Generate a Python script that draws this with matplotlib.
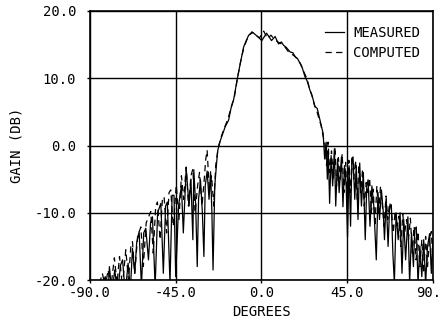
import matplotlib
matplotlib.use('Agg')
import matplotlib.pyplot as plt

# measured pattern (angle in degrees, gain in dB)
meas_deg = [-84, -82, -80.5, -79.8, -78.5, -77, -75.5, -74, -72.9, -71.5, -70, -68.8, -67.7, -66.5,
            -65.5, -64.2, -63, -61.8, -60.7, -59.3, -58.2, -57.2, -55.8, -54.5, -52.8, -51.5, -50.3,
            -49.4, -48, -46.9, -45.9, -45, -43.5, -42, -41, -39.5, -38, -37, -36, -35.5, -34.5, -33.7,
            -33, -32, -31, -30.2, -29.5, -28.5, -27.5, -26.7, -26, -25.4, -24.5, -23.5, -22.9, -21.5,
            -19, -17.2, -16, -14.6, -12.8, -11.1, -9.3, -6.7, -4.5, -2, 0.2, 2.7, 5.3, 7.2, 9.0, 10.5,
            11.6, 13, 15.1, 16.5, 17.7, 19, 20.3, 21.5, 22.9, 24, 25.5, 26.8, 28.1, 29.3, 30.7, 31.5,
            32.4, 33.2, 34, 34.6, 35.1, 35.8, 36.6, 37.4, 38.3, 39, 40, 40.8, 42, 42.8, 43.6, 44.5,
            45.2, 46, 46.8, 47.5, 48.1, 49, 49.8, 50.7, 51.6, 52.5, 53.5, 54.5, 55.3, 56, 57, 58, 59,
            60.3, 61.2, 62, 63, 64, 64.6, 65.5, 66.5, 67.3, 68.2, 69, 69.8, 70.7, 71.8, 72.8, 73.8,
            74.7, 75.7, 76.9, 77.8, 78.8, 79.8, 80.5, 81.3, 82.2, 83.2, 84.2, 85.2, 86.2, 87.2, 88.3,
            89.2, 90]
meas_db = [-21, -19.5, -22, -18.0, -22, -18.5, -22, -17.8, -17.0, -22, -17.5, -21.5, -15.3, -19,
           -14.5, -12.8, -21, -13, -12.3, -17, -11.5, -10.6, -21, -10, -8.6, -19, -9,
           -8.4, -20.5, -7.4, -7.4, -19.5, -9, -6, -13, -3.4, -9, -5, -14, -3.6, -9, -18,
           -8, -5.1, -10, -16.5, -6, -3.8, -8, -3.9, -10, -18.5, -6, -2.5, -0.7, 0.8,
           2.8, 3.8, 5.5, 6.8, 9.7, 12.2, 14.7, 16.4, 16.8, 16.2, 15.6, 16.7, 15.6, 16.2, 15.1, 15.4,
           14.9, 14.6, 13.9, 13.8, 13.2, 12.9, 12.2, 11.5, 10.2, 9.6, 8.2, 7.2, 5.8, 5.5, 3.8, 2.8,
           1.8, -2, 0.5, -5, -0.7, -8.6, -1.5, -6, -0.5, -9, -2, -7, -1.7, -9.1, -3, -6,
           -13.6, -3, -12, -2, -1.7, -8, -3, -11, -2.6, -9, -4, -14, -6, -5.1, -12, -6, -9,
           -17, -7, -11, -6.6, -10, -14, -8, -15, -9, -8.8, -16, -20.5, -10, -14, -10, -19,
           -11, -17, -10.6, -20.5, -13, -18, -12.5, -12.1, -20.5, -15, -19.5, -14, -20.5, -15, -13.1,
           -19, -14]

# computed pattern
comp_deg = [-85, -83.5, -82, -80.5, -79, -77.2, -75.8, -74.5, -73, -71.2, -69.8, -68.5, -67.7, -66.5,
            -65, -63.3, -62, -60.5, -58.1, -56.8, -55.5, -54.6, -53.2, -52, -51.1, -49.8, -48.5,
            -47.6, -46.3, -44.7, -43.3, -42, -40.8, -39.5, -38.3, -37, -36, -34.8, -33.5, -32.5,
            -31.2, -30, -29.3, -28.5, -27.3, -26.2, -25, -24, -22.8, -21.5, -19.5, -17.5, -15.8,
            -14.2, -12.6, -10.9, -9.2, -7, -5, -3, -1, 1.2, 3.2, 5, 6.8, 8.6, 10.5, 12.2, 14, 15.8,
            17.4, 19.2, 20.8, 22.5, 24, 25.2, 26.5, 27.8, 29, 30.2, 31.3, 32.3, 33.3, 34.2, 35,
            35.8, 36.8, 37.8, 38.6, 39.5, 40.4, 41.4, 42.4, 43.3, 44.2, 45, 45.9, 46.7, 47.6, 48.5,
            49.4, 50.3, 51.2, 52.2, 53.1, 54, 55, 55.9, 56.8, 57.7, 58.7, 59.6, 60.6, 61.5, 62.5,
            63.5, 64.4, 65.4, 66.3, 67.3, 68.2, 69.2, 70.2, 71.2, 72.2, 73.2, 74.2, 75.2, 76.2,
            77.2, 78.2, 79.2, 80.2, 81.2, 82.2, 83.2, 84.2, 85.2, 86.2, 87.2, 88.2, 89.2, 90]
comp_db = [-20.5, -19, -21, -18.5, -21, -16.7, -20.5, -16.5, -21, -15.5, -20, -14.8, -14.3, -19,
           -13.5, -12.1, -18, -11.5, -9.8, -16, -9, -8.4, -14, -8, -7.6, -13, -7,
           -6.6, -12, -5.9, -11, -4.5, -8, -3.2, -9, -4.5, -3.5, -10, -6, -4,
           -9, -5, -2.2, -0.7, -7, -4.5, -9, -3, -0.5, 1.0, 2.6, 4.0, 5.8,
           7.2, 10.0, 12.5, 14.6, 16.2, 16.9, 16.4, 16.0, 17.0, 15.9, 16.4, 15.8, 15.4, 15.1, 14.7, 14.0, 13.6,
           13.3, 12.8, 12.0, 10.8, 9.9, 8.5, 7.5, 6.0, 5.2, 4.0, 3.0, 1.5, 0.2, -3, 0.5,
           -4, -0.8, -5, -0.3, -6, -1.8, -5, -1.2, -7, -2.5, -8, -2.2, -7, -1.5, -5,
           -2.2, -8, -2.8, -7, -3.5, -9, -5.5, -7, -4.8, -10, -6.5, -12, -6, -10, -6.2,
           -9, -12, -7.5, -11, -8.5, -9.5, -13, -9.8, -12, -10.5, -15, -10.2, -13, -11,
           -14, -10.8, -16, -12, -17, -12.8, -18, -14, -19, -13.5, -18, -14, -12.8, -17]

xticks = [-90, -45, 0, 45, 90]
yticks = [-20, -10, 0, 10, 20]

plt.rcParams['font.family'] = ['DejaVu Sans Mono']

fig = plt.figure(figsize=(4.39, 3.23), dpi=100)
ax = fig.add_axes([0.205, 0.133, 0.781, 0.833])

ax.plot(meas_deg, meas_db, color='black', lw=0.9, label='MEASURED')
ax.plot(comp_deg, comp_db, color='black', lw=0.9, ls=(0, (5, 3.5)), label='COMPUTED')

ax.set_xlim(-90, 90)
ax.set_ylim(-20, 20)
ax.set_xticks(xticks)
ax.set_yticks(yticks)
ax.set_xticklabels([f'{v:.1f}' for v in xticks])
ax.set_yticklabels([f'{v:.1f}' for v in yticks])
ax.grid(True, color='black', lw=1.0)
ax.set_axisbelow(True)
ax.tick_params(length=2, width=1, labelsize=10, pad=2)
ax.tick_params(axis='y', pad=8)
for s in ax.spines.values():
    s.set_linewidth(1.2)

ax.set_xlabel('DEGREES', fontsize=10, labelpad=4)
ax.set_ylabel('GAIN (DB)', fontsize=10, labelpad=8)

ax.legend(loc='upper left', bbox_to_anchor=(0.685, 0.945), frameon=False,
          handlelength=1.35, handletextpad=0.7, labelspacing=0.45, borderpad=0,
          borderaxespad=0, fontsize=10)

fig.savefig('out.png', dpi=100)
